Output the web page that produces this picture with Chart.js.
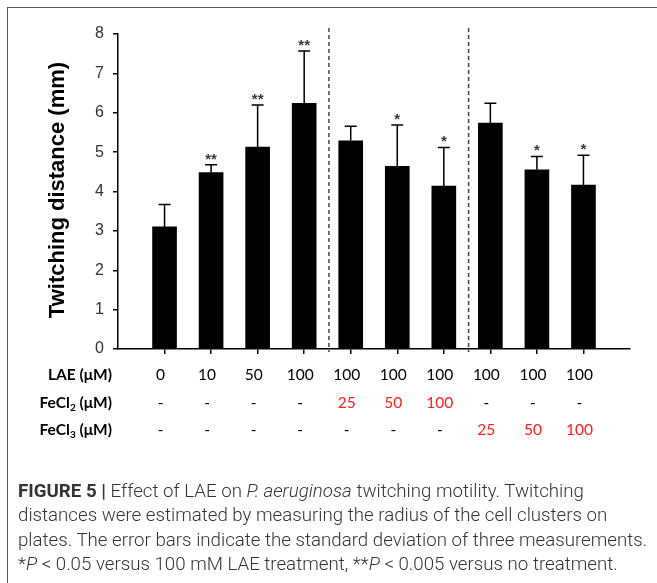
<!DOCTYPE html>
<html><head><meta charset="utf-8">
<script src="https://cdn.jsdelivr.net/npm/chart.js@4.4.1/dist/chart.umd.min.js"></script>
<style>
html,body{margin:0;padding:0;background:#fff;overflow:hidden;width:657px;height:583px;}
#wrap{position:relative;width:657px;height:583px;overflow:hidden;}
#frame{position:absolute;left:7px;top:7px;width:800px;height:800px;border:1.5px solid #555;box-sizing:border-box;}
canvas{position:absolute;left:0;top:0;}
#cap{position:absolute;left:18px;top:479px;font-family:Roboto,'Liberation Sans',sans-serif;font-weight:300;font-size:18.7px;line-height:24.4px;color:#333;white-space:nowrap;}
#cap b{font-weight:700;}
</style></head><body>
<div id="wrap"><div id="frame"></div><canvas id="c" width="657" height="583"></canvas>
<div id="cap"><b>FIGURE 5 |</b> Effect of LAE on <i>P. aeruginosa</i> twitching motility. Twitching<br>distances were estimated by measuring the radius of the cell clusters on<br>plates. The error bars indicate the standard deviation of three measurements.<br>*<i>P</i> &lt; 0.05 versus 100 mM LAE treatment, **<i>P</i> &lt; 0.005 versus no treatment.</div>
</div>
<script>
// ---- data ----
const lae   = ['0','10','50','100','100','100','100','100','100','100'];
const fecl2 = ['-','-','-','-','25','50','100','-','-','-'];
const fecl3 = ['-','-','-','-','-','-','-','25','50','100'];
const means = [3.1, 4.48, 5.13, 6.24, 5.29, 4.64, 4.14, 5.74, 4.55, 4.16];
const sds   = [0.57, 0.2, 1.07, 1.33, 0.37, 1.05, 0.98, 0.5, 0.34, 0.76];
const sig   = ['', '**', '**', '**', '', '*', '*', '', '*', '*'];
const dividers = [4.5, 7.5];
const yTitle = 'Twitching distance (mm)';
const rowLabels = [['LAE (μM)'], ['FeCl', '2', ' (μM)'], ['FeCl', '3', ' (μM)']];

// padded category axis: empty slot at both ends
const labels = [''].concat(lae, ['']);
const barData = [null].concat(means, [null]);

const extras = {
  id: 'extras',
  afterDatasetsDraw(chart) {
    const ctx = chart.ctx, xs = chart.scales.x, ys = chart.scales.y;
    ctx.save();
    // error bars
    ctx.strokeStyle = '#000'; ctx.lineWidth = 1.5;
    for (let i = 0; i < means.length; i++) {
      const x = xs.getPixelForValue(i + 1);
      const y0 = ys.getPixelForValue(means[i]);
      const y1 = ys.getPixelForValue(means[i] + sds[i]);
      ctx.beginPath(); ctx.moveTo(x, y0); ctx.lineTo(x, y1);
      ctx.moveTo(x - 6, y1); ctx.lineTo(x + 6, y1); ctx.stroke();
      if (sig[i]) {
        ctx.fillStyle = '#3a3a3a'; ctx.font = 'bold 15px "Liberation Sans", Arial';
        ctx.textAlign = 'center'; ctx.textBaseline = 'alphabetic';
        ctx.fillText(sig[i], x, y1 - 1);
      }
    }
    // dividers
    ctx.strokeStyle = '#444'; ctx.lineWidth = 1.5; ctx.setLineDash([4, 3]);
    dividers.forEach(d => {
      const x = xs.getPixelForValue(d) + 1.5;
      ctx.beginPath(); ctx.moveTo(x, 28); ctx.lineTo(x, ys.bottom + 3); ctx.stroke();
    });
    ctx.setLineDash([]);
    // y title
    ctx.save();
    ctx.translate(58, (ys.top + ys.bottom) / 2 - 1.5);
    ctx.rotate(-Math.PI / 2);
    ctx.fillStyle = '#000'; ctx.font = 'bold 22px "Liberation Sans", Arial';
    ctx.textAlign = 'center'; ctx.textBaseline = 'middle';
    ctx.fillText(yTitle, 0, 0);
    ctx.restore();
    // table
    const rowsY = [375, 403, 430];
    const rows = [lae, fecl2, fecl3];
    rows.forEach((row, r) => {
      const y = rowsY[r];
      const parts = rowLabels[r];
      const big = 'bold 15.5px Lato, "Open Sans", sans-serif';
      const small = 'bold 10px Lato, "Open Sans", sans-serif';
      let widths = parts.map((p, k) => { ctx.font = (k === 1 ? small : big); return ctx.measureText(p).width; });
      let x = 112 - widths.reduce((a, b) => a + b, 0);
      ctx.textAlign = 'left'; ctx.textBaseline = 'middle'; ctx.fillStyle = '#000';
      parts.forEach((p, k) => {
        ctx.font = (k === 1 ? small : big);
        ctx.fillText(p, x, k === 1 ? y + 5 : y);
        x += widths[k];
      });
      ctx.font = '15.5px Lato, "Open Sans", sans-serif';
      ctx.textAlign = 'center';
      row.forEach((v, i) => {
        const px = xs.getPixelForValue(i + 1) - 4;
        ctx.fillStyle = (r > 0 && v !== '-') ? '#ff2020' : '#000';
        ctx.fillText(v, px, y);
      });
    });
    ctx.restore();
  }
};

new Chart(document.getElementById('c'), {
  type: 'bar',
  data: { labels: labels, datasets: [{ data: barData, backgroundColor: '#000', borderWidth: 0, barThickness: 24 }] },
  options: {
    responsive: false, animation: false,
    layout: { padding: { top: 34, right: 27, left: 0, bottom: 0 } },
    plugins: { legend: { display: false }, tooltip: { enabled: false }, title: { display: false } },
    scales: {
      x: {
        type: 'category', offset: false,
        afterFit(s) { s.height = 583 - 349; },
        grid: { offset: false, drawOnChartArea: false, drawTicks: true, tickLength: 5, lineWidth: 1.5,
          tickColor: c => (c.index >= 1 && c.index <= lae.length) ? '#000' : 'rgba(0,0,0,0)' },
        border: { display: true, color: '#000', width: 1.5 },
        ticks: { display: false, autoSkip: false }
      },
      y: {
        min: 0, max: 8,
        afterFit(s) { s.width = 118; },
        grid: { drawOnChartArea: false, drawTicks: true, tickLength: 5, lineWidth: 1.5, tickColor: '#000' },
        border: { display: true, color: '#000', width: 1.5 },
        ticks: { stepSize: 1, padding: 9, color: '#333', font: { family: '"Liberation Sans", Arial', size: 16 } }
      }
    }
  },
  plugins: [extras]
});
</script>
</body></html>
